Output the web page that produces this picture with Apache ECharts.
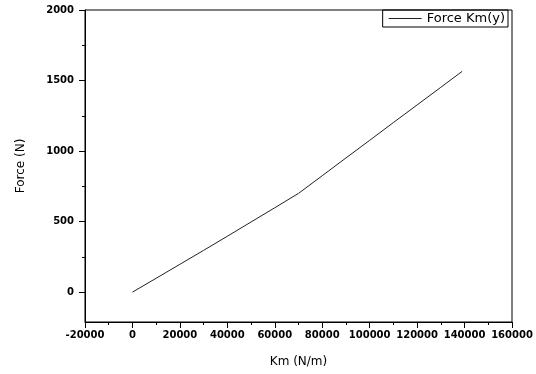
<!DOCTYPE html>
<html>
<head>
<meta charset="utf-8">
<script src="https://cdn.jsdelivr.net/npm/echarts@6/dist/echarts.min.js"></script>
<style>
  html, body { margin: 0; padding: 0; background: #fff; }
  #chart { width: 536px; height: 374px; }
</style>
</head>
<body>
<div id="chart"></div>
<script>
// Km (N/m) vs Force (N)
const kmValues = [0, 10000, 20000, 30000, 40000, 50000, 60000, 70000, 80000, 90000, 100000, 110000, 120000, 130000, 139000];
const forceValues = [0, 98, 197, 296, 396, 497, 598, 700, 825, 951, 1076, 1202, 1327, 1452, 1565];
const yMajorTicks = [0, 500, 1000, 1500, 2000];
const yMinorTicks = [250, 750, 1250, 1750];

const chart = echarts.init(document.getElementById('chart'));

const labelFont = { color: '#000', fontFamily: 'DejaVu Sans, sans-serif', fontSize: 10, fontWeight: 'bold' };
const nameFont = { color: '#000', fontFamily: 'DejaVu Sans, sans-serif', fontSize: 12 };
const plain = (v) => String(v);

const option = {
  backgroundColor: '#fff',
  animation: false,
  grid: { left: 85, right: 24, top: 10, bottom: 52, show: true, borderColor: '#000', borderWidth: 1 },
  legend: {
    right: 28,
    top: 10,
    orient: 'vertical',
    borderColor: '#000',
    borderWidth: 1,
    padding: [2, 3, 2, 6],
    itemWidth: 33,
    itemHeight: 13,
    itemGap: 0,
    textStyle: { color: '#000', fontFamily: 'DejaVu Sans, sans-serif', fontSize: 13 },
    data: [{ name: 'Force Km(y)', icon: 'path://M0,6 L33,6 L33,7 L0,7 Z' }]
  },
  xAxis: {
    type: 'value',
    min: -20000,
    max: 160000,
    interval: 20000,
    name: 'Km (N/m)',
    nameLocation: 'middle',
    nameGap: 34,
    nameTextStyle: nameFont,
    axisLine: { show: true, onZero: false, lineStyle: { color: '#000', width: 1 } },
    axisTick: { show: true, inside: false, length: 6, lineStyle: { color: '#000' } },
    minorTick: { show: true, splitNumber: 2, length: 3, lineStyle: { color: '#000' } },
    splitLine: { show: false },
    axisLabel: Object.assign({ margin: 8, formatter: plain }, labelFont)
  },
  yAxis: [
    {
      type: 'value',
      min: -212,
      max: 2000,
      name: 'Force (N)',
      nameLocation: 'middle',
      nameGap: 58,
      nameTextStyle: nameFont,
      axisLine: { show: true, onZero: false, lineStyle: { color: '#000', width: 1 } },
      axisTick: { show: true, length: 6, customValues: yMajorTicks, lineStyle: { color: '#000' } },
      axisLabel: Object.assign({ margin: 11, customValues: yMajorTicks, formatter: plain }, labelFont),
      splitLine: { show: false }
    },
    {
      type: 'value',
      position: 'left',
      min: -212,
      max: 2000,
      axisLine: { show: false, onZero: false },
      axisTick: { show: true, length: 3, customValues: yMinorTicks, lineStyle: { color: '#000' } },
      axisLabel: { show: false },
      splitLine: { show: false }
    }
  ],
  series: [
    {
      name: 'Force Km(y)',
      type: 'line',
      data: kmValues.map((k, i) => [k, forceValues[i]]),
      showSymbol: false,
      lineStyle: { color: '#222', width: 1 },
      itemStyle: { color: '#222' }
    }
  ]
};

chart.setOption(option);
</script>
</body>
</html>
